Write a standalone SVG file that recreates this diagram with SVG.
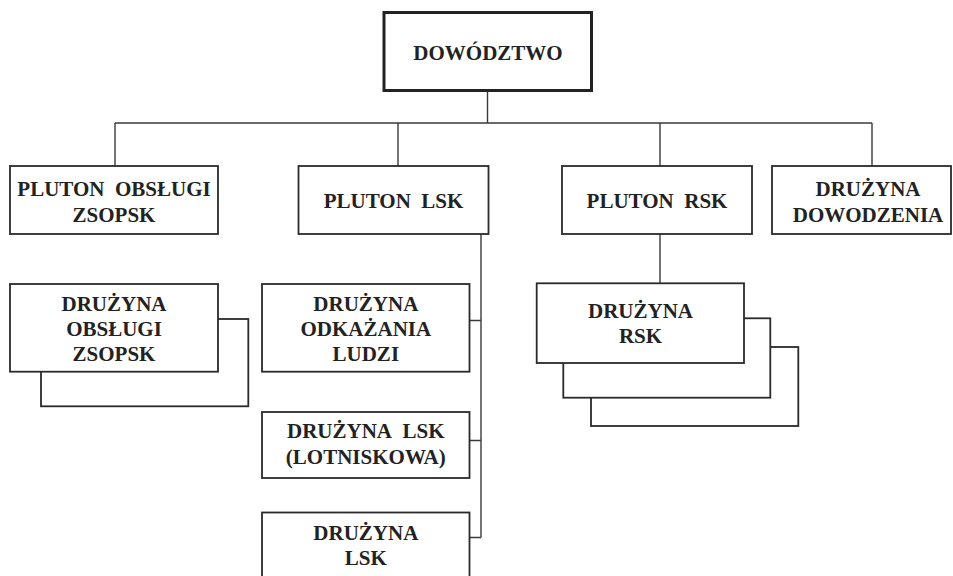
<svg xmlns="http://www.w3.org/2000/svg" width="953" height="576" viewBox="0 0 953 576">
<style>
.box{fill:#fff;stroke:#2a2a2a;stroke-width:1.8}
.root{fill:#fff;stroke:#222;stroke-width:3}
.conn{fill:none;stroke:#3a3a3a;stroke-width:1.4}
text{font-family:'Liberation Serif','DejaVu Serif',serif;font-weight:bold;font-size:21px;fill:#222;text-anchor:middle}
</style>
<rect width="953" height="576" fill="#fff"/>
<g id="connectors">
<path class="conn" d="M487.5,91V123M115,123H872M115,123V166M398,123V166M660,123V166M872,123V166"/>
<path class="conn" d="M481,234V537.5M469.5,320.5H481M469.5,440.5H481M469.5,537.5H481"/>
<path class="conn" d="M660,234V283.5"/>
</g>
<g id="dowodztwo">
<rect class="root" x="384" y="12.5" width="207.5" height="78"/>
<text x="488" y="60">DOWÓDZTWO</text>
</g>
<g id="pluton-obslugi">
<rect class="box" x="10" y="166" width="208" height="68"/>
<text x="114" y="195.5">PLUTON&#160; OBSŁUGI</text>
<text x="114" y="221.5">ZSOPSK</text>
</g>
<g id="pluton-lsk">
<rect class="box" x="298.5" y="166" width="190" height="68"/>
<text x="393.5" y="208.3">PLUTON&#160; LSK</text>
</g>
<g id="pluton-rsk">
<rect class="box" x="562" y="166" width="190" height="68"/>
<text x="657" y="208.3">PLUTON&#160; RSK</text>
</g>
<g id="druzyna-dowodzenia">
<rect class="box" x="772" y="166" width="179" height="68"/>
<text x="868" y="195.7">DRUŻYNA</text>
<text x="868" y="221.7">DOWODZENIA</text>
</g>
<g id="druzyna-obslugi-zsopsk">
<rect class="box" x="41" y="319" width="207.3" height="87.3"/>
<rect class="box" x="10" y="284" width="208" height="87.7"/>
<text x="114" y="310.7">DRUŻYNA</text>
<text x="114" y="335.5">OBSŁUGI</text>
<text x="114" y="360.7">ZSOPSK</text>
</g>
<g id="druzyna-odkazania">
<rect class="box" x="262" y="284" width="207.5" height="87.7"/>
<text x="365.8" y="310.7">DRUŻYNA</text>
<text x="365.8" y="335.5">ODKAŻANIA</text>
<text x="365.8" y="360.7">LUDZI</text>
</g>
<g id="druzyna-lsk-lotniskowa">
<rect class="box" x="262" y="412" width="207.5" height="66"/>
<text x="365.8" y="438.3">DRUŻYNA&#160; LSK</text>
<text x="365.8" y="463.5">(LOTNISKOWA)</text>
</g>
<g id="druzyna-lsk">
<rect class="box" x="262" y="512.5" width="207.5" height="75"/>
<text x="365.8" y="540">DRUŻYNA</text>
<text x="365.8" y="565">LSK</text>
</g>
<g id="druzyna-rsk">
<rect class="box" x="591" y="347" width="207.3" height="79"/>
<rect class="box" x="563.3" y="318.3" width="207" height="79.4"/>
<rect class="box" x="536.7" y="283.3" width="207.3" height="79.7"/>
<text x="640.5" y="318.3">DRUŻYNA</text>
<text x="640.5" y="343.3">RSK</text>
</g>
</svg>
